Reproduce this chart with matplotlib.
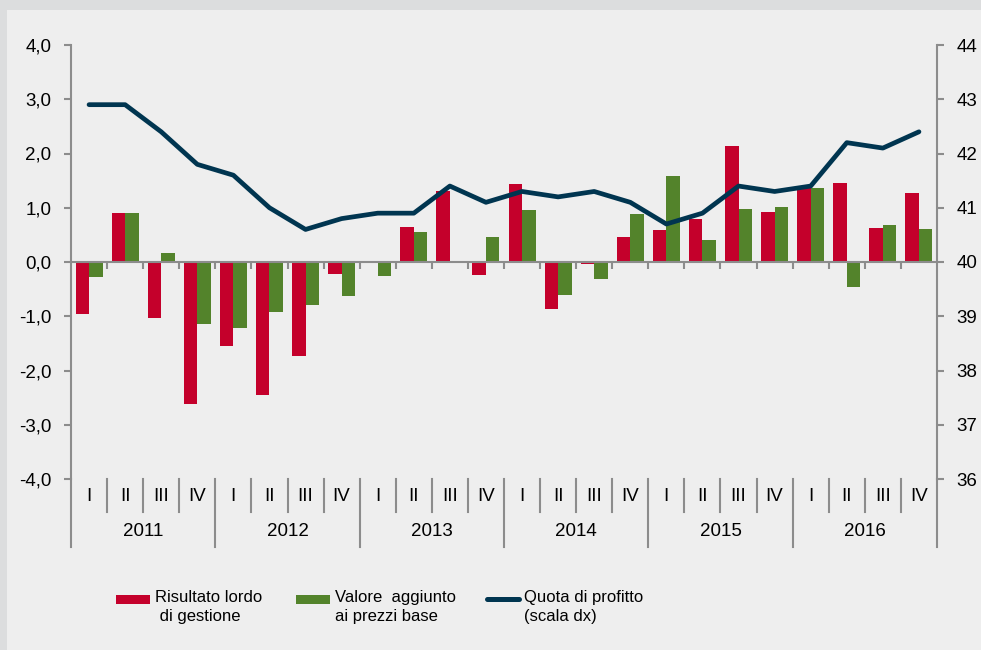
import matplotlib
matplotlib.use('Agg')
import matplotlib.pyplot as plt
from matplotlib.patches import Rectangle
from matplotlib.lines import Line2D

# dati trimestrali 2011-2016
anni = ['2011', '2012', '2013', '2014', '2015', '2016']
trimestri = ['I', 'II', 'III', 'IV']

risultato_lordo = [-0.95, 0.90, -1.04, -2.62,
                   -1.54, -2.45, -1.74, -0.23,
                   0.0, 0.65, 1.31, -0.24,
                   1.44, -0.87, -0.03, 0.47,
                   0.59, 0.80, 2.14, 0.92,
                   1.38, 1.45, 0.62, 1.27]
valore_aggiunto = [-0.27, 0.90, 0.17, -1.15,
                   -1.22, -0.92, -0.79, -0.63,
                   -0.25, 0.55, 0.02, 0.47,
                   0.96, -0.61, -0.31, 0.88,
                   1.59, 0.40, 0.98, 1.01,
                   1.37, -0.47, 0.69, 0.60]
quota_profitto = [42.9, 42.9, 42.4, 41.8,
                  41.6, 41.0, 40.6, 40.8,
                  40.9, 40.9, 41.4, 41.1,
                  41.3, 41.2, 41.3, 41.1,
                  40.7, 40.9, 41.4, 41.3,
                  41.4, 42.2, 42.1, 42.4]

rosso = '#C4002B'
verde = '#53832B'
blu = '#003550'
grigio = '#8C8C8C'

plt.rcParams['font.family'] = ['Liberation Sans', 'DejaVu Sans']

fig = plt.figure(figsize=(9.81, 6.5), dpi=100)
fig.patch.set_facecolor('#DCDDDE')
fig.patches.append(Rectangle((7 / 981, 0), 1, 1 - 10 / 650, transform=fig.transFigure,
                             facecolor='#EEEEEE', edgecolor='none', zorder=-10))

ax = fig.add_axes([71 / 981, 1 - 479 / 650, (937 - 71) / 981, (479 - 45) / 650])
ax.patch.set_visible(False)

n = len(risultato_lordo)
x = list(range(n))
w = 0.375
ax.bar([i - w / 2 for i in x], risultato_lordo, width=w, color=rosso, zorder=2)
ax.bar([i + w / 2 for i in x], valore_aggiunto, width=w, color=verde, zorder=2)

ax.set_xlim(-0.5, n - 0.5)
ax.set_ylim(-4, 4)
yt = [-4, -3, -2, -1, 0, 1, 2, 3, 4]
ax.set_yticks(yt)
ax.set_yticklabels([f'{v:.1f}'.replace('.', ',') for v in yt], fontsize=13.5)
ax.tick_params(axis='y', direction='out', length=5, width=1.5, color=grigio, pad=9)

for s in ['top', 'right']:
    ax.spines[s].set_visible(False)
ax.spines['left'].set_color(grigio)
ax.spines['left'].set_linewidth(1.5)
ax.spines['bottom'].set_position(('data', 0))
ax.spines['bottom'].set_color(grigio)
ax.spines['bottom'].set_linewidth(1.5)
ax.set_xticks([i + 0.5 for i in range(n - 1)])
ax.tick_params(axis='x', direction='out', length=5, width=1.5, color=grigio, labelbottom=False)

# etichette trimestri e anni sotto il grafico
tr = ax.get_xaxis_transform()
for i in range(n):
    ax.text(i, -0.041, trimestri[i % 4], transform=tr, ha='center', va='center', fontsize=13.5)
for k, anno in enumerate(anni):
    ax.text(4 * k + 1.5, -0.122, anno, transform=tr, ha='center', va='center', fontsize=13.5)
for i in range(1, n):
    low = -0.157 if i % 4 == 0 else -0.076
    ax.plot([i - 0.5, i - 0.5], [0, low], transform=tr, color=grigio, lw=1.5, clip_on=False)
ax.plot([-0.5, -0.5], [0, -0.157], transform=tr, color=grigio, lw=1.5, clip_on=False)
ax.plot([n - 0.5, n - 0.5], [0, -0.157], transform=tr, color=grigio, lw=1.5, clip_on=False)

# asse destro: quota di profitto
ax2 = ax.twinx()
ax2.plot(x, quota_profitto, color=blu, lw=3.4, solid_capstyle='round', solid_joinstyle='round', zorder=3)
ax2.set_ylim(36, 44)
ax2.set_yticks(range(36, 45))
ax2.tick_params(axis='y', direction='out', length=5, width=1.5, color=grigio, pad=9, labelsize=13.5)
for s in ['top', 'left', 'bottom']:
    ax2.spines[s].set_visible(False)
ax2.spines['right'].set_color(grigio)
ax2.spines['right'].set_linewidth(1.5)

# legenda
legenda = [('rect', rosso, 116, 'Risultato lordo\n di gestione'),
           ('rect', verde, 296, 'Valore  aggiunto\nai prezzi base'),
           ('line', blu, 485, 'Quota di profitto\n(scala dx)')]
for tipo, col, px, testo in legenda:
    if tipo == 'rect':
        fig.patches.append(Rectangle((px / 981, 1 - 604 / 650), 34 / 981, 9 / 650,
                                     transform=fig.transFigure, facecolor=col, edgecolor='none'))
    else:
        fig.lines.append(Line2D([(px + 2) / 981, (px + 34) / 981], [1 - 599 / 650, 1 - 599 / 650],
                                transform=fig.transFigure, color=col, lw=3.6, solid_capstyle='round'))
    fig.text((px + 39) / 981, 1 - 590 / 650, testo, ha='left', va='top', fontsize=12,
             linespacing=1.35)

fig.savefig('out.png', dpi=100, facecolor=fig.get_facecolor())
